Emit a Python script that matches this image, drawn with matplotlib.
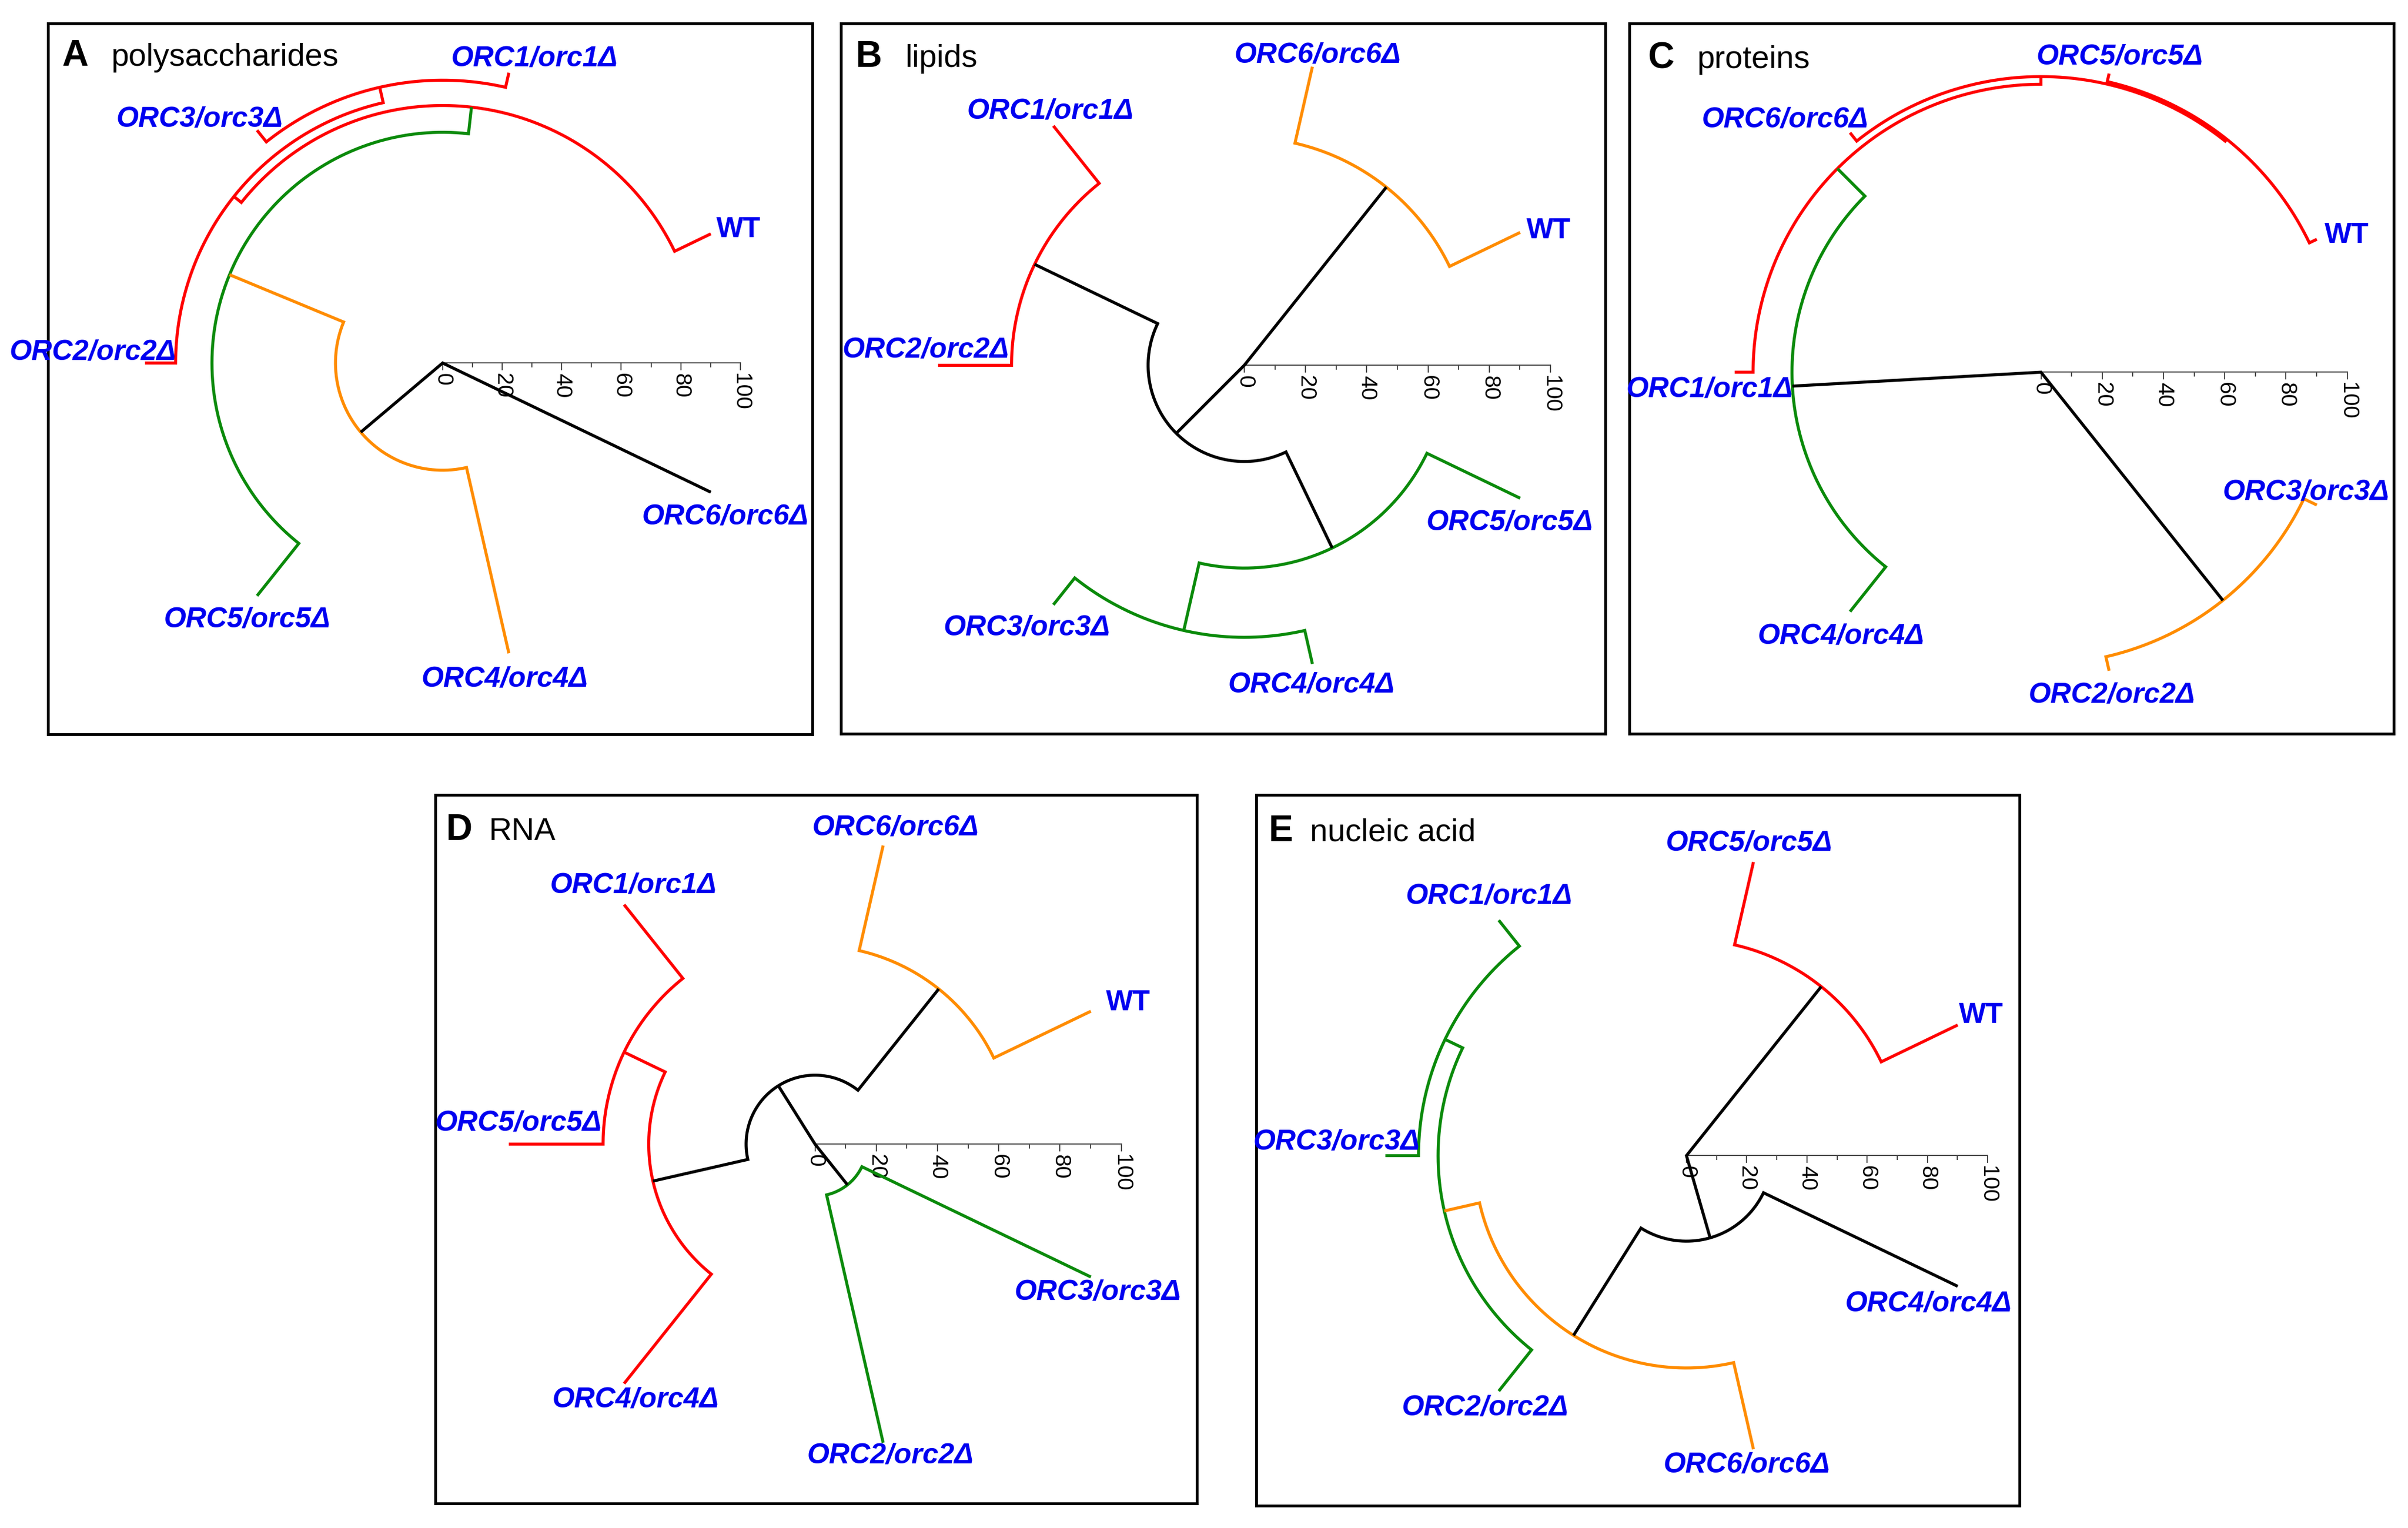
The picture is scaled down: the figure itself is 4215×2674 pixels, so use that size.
import numpy as np
import matplotlib
matplotlib.use("Agg")
import matplotlib.pyplot as plt

plt.rcParams['font.family'] = ['Liberation Sans', 'DejaVu Sans']

W, H, DPI = 4215, 2674, 100

# ---------------- data ----------------
LEAF_HEIGHT = 100
AXIS_MAJOR = [0, 20, 40, 60, 80, 100]
AXIS_MINOR = [10, 30, 50, 70, 90]

# A: polysaccharides (leaves listed counter-clockwise, starting at WT)
LEAVES_A = ["WT", "ORC1/orc1Δ", "ORC3/orc3Δ", "ORC2/orc2Δ", "ORC5/orc5Δ", "ORC4/orc4Δ", "ORC6/orc6Δ"]
MERGES_A = [("ORC1/orc1Δ", "ORC3/orc3Δ"), ("n0", "ORC2/orc2Δ"), ("WT", "n1"),
            ("n2", "ORC5/orc5Δ"), ("n3", "ORC4/orc4Δ"), ("ORC6/orc6Δ", "n4")]
HEIGHTS_A = [95.0, 89.7, 86.5, 77.5, 36.0, 0.0]
CLUSTER_A = ["red", "red", "red", "green", "orange", "black"]

# B: lipids
LEAVES_B = ["WT", "ORC6/orc6Δ", "ORC1/orc1Δ", "ORC2/orc2Δ", "ORC3/orc3Δ", "ORC4/orc4Δ", "ORC5/orc5Δ"]
MERGES_B = [("WT", "ORC6/orc6Δ"), ("ORC1/orc1Δ", "ORC2/orc2Δ"), ("ORC3/orc3Δ", "ORC4/orc4Δ"),
            ("n2", "ORC5/orc5Δ"), ("n1", "n3"), ("n0", "n4")]
HEIGHTS_B = [74.4, 76.0, 88.8, 66.2, 31.4, 0.0]
CLUSTER_B = ["orange", "red", "green", "green", "black", "black"]

# C: proteins
LEAVES_C = ["WT", "ORC5/orc5Δ", "ORC6/orc6Δ", "ORC1/orc1Δ", "ORC4/orc4Δ", "ORC2/orc2Δ", "ORC3/orc3Δ"]
MERGES_C = [("WT", "ORC5/orc5Δ"), ("ORC6/orc6Δ", "n0"), ("n1", "ORC1/orc1Δ"),
            ("n2", "ORC4/orc4Δ"), ("ORC2/orc2Δ", "ORC3/orc3Δ"), ("n3", "n4")]
HEIGHTS_C = [97.3, 96.5, 94.0, 81.3, 95.3, 0.0]
CLUSTER_C = ["red", "red", "red", "green", "orange", "black"]

# D: RNA
LEAVES_D = ["WT", "ORC6/orc6Δ", "ORC1/orc1Δ", "ORC5/orc5Δ", "ORC4/orc4Δ", "ORC2/orc2Δ", "ORC3/orc3Δ"]
MERGES_D = [("WT", "ORC6/orc6Δ"), ("ORC1/orc1Δ", "ORC5/orc5Δ"), ("n1", "ORC4/orc4Δ"),
            ("n0", "n2"), ("ORC2/orc2Δ", "ORC3/orc3Δ"), ("n3", "n4")]
HEIGHTS_D = [64.8, 69.2, 54.3, 22.5, 17.0, 0.0]
CLUSTER_D = ["orange", "red", "red", "black", "green", "black"]

# E: nucleic acid
LEAVES_E = ["WT", "ORC5/orc5Δ", "ORC1/orc1Δ", "ORC3/orc3Δ", "ORC2/orc2Δ", "ORC6/orc6Δ", "ORC4/orc4Δ"]
MERGES_E = [("WT", "ORC5/orc5Δ"), ("ORC1/orc1Δ", "ORC3/orc3Δ"), ("n1", "ORC2/orc2Δ"),
            ("n2", "ORC6/orc6Δ"), ("n3", "ORC4/orc4Δ"), ("n0", "n4")]
HEIGHTS_E = [71.8, 89.0, 82.5, 70.5, 28.4, 0.0]
CLUSTER_E = ["red", "green", "green", "orange", "black", "black"]

# ---------------- style / layout ----------------
COLORS = {"red": "#FF0000", "green": "#0A8A0A", "orange": "#FF8C00", "black": "#000000"}
LABEL_COLOR = "#0000F0"
LINE_W = 3.8
LABEL_FS = 36
AXIS_FS = 28

# label centre offsets from leaf tip (data units)
LABEL_OFF = {
    "A": {"WT": (9.4, 2.4), "ORC1/orc1Δ": (8.6, 5.7), "ORC3/orc3Δ": (-19.3, 4.6), "ORC2/orc2Δ": (-17.6, 4.6),
          "ORC5/orc5Δ": (-3.3, -7.1), "ORC4/orc4Δ": (-1.4, -7.7), "ORC6/orc6Δ": (4.8, -7.3)},
    "B": {"WT": (9.4, 1.4), "ORC6/orc6Δ": (1.8, 4.6), "ORC1/orc1Δ": (-1.0, 5.8), "ORC2/orc2Δ": (-4.0, 6.0),
          "ORC3/orc3Δ": (-8.6, -6.6), "ORC4/orc4Δ": (-0.3, -5.9), "ORC5/orc5Δ": (-3.4, -7.0)},
    "C": {"WT": (9.7, 2.1), "ORC5/orc5Δ": (3.5, 6.4), "ORC6/orc6Δ": (-21.3, 5.1), "ORC1/orc1Δ": (-8.3, -4.8),
          "ORC4/orc4Δ": (-3.0, -7.2), "ORC2/orc2Δ": (0.8, -7.0), "ORC3/orc3Δ": (-3.6, 5.0)},
    "D": {"WT": (12.1, 3.6), "ORC6/orc6Δ": (4.0, 6.8), "ORC1/orc1Δ": (3.0, 7.1), "ORC5/orc5Δ": (3.2, 7.8),
          "ORC4/orc4Δ": (3.8, -4.4), "ORC2/orc2Δ": (2.4, -3.3), "ORC3/orc3Δ": (2.2, -4.0)},
    "E": {"WT": (7.8, 4.1), "ORC5/orc5Δ": (-1.45, 7.2), "ORC1/orc1Δ": (-3.2, 8.8), "ORC3/orc3Δ": (-16.2, 5.4),
          "ORC2/orc2Δ": (-4.5, -4.5), "ORC6/orc6Δ": (-2.3, -4.3), "ORC4/orc4Δ": (-9.7, -4.8)},
}

# panel geometry in pixels: box (x0, y0, x1, y1), tree centre, px per unit, title anchors
PANELS = [
    dict(key="A", title="polysaccharides", leaves=LEAVES_A, merges=MERGES_A, heights=HEIGHTS_A, clusters=CLUSTER_A,
         box=(84, 41, 1422, 1285), center=(774.8, 635.3), scale=5.21, letter_x=108, text_x=194, base_y=115),
    dict(key="B", title="lipids", leaves=LEAVES_B, merges=MERGES_B, heights=HEIGHTS_B, clusters=CLUSTER_B,
         box=(1472, 41, 2810, 1284), center=(2178.0, 639.3), scale=5.36, letter_x=1498, text_x=1584, base_y=117),
    dict(key="C", title="proteins", leaves=LEAVES_C, merges=MERGES_C, heights=HEIGHTS_C, clusters=CLUSTER_C,
         box=(2852, 41, 4190, 1284), center=(3572.5, 651.3), scale=5.36, letter_x=2884, text_x=2970, base_y=119),
    dict(key="D", title="RNA", leaves=LEAVES_D, merges=MERGES_D, heights=HEIGHTS_D, clusters=CLUSTER_D,
         box=(762, 1391, 2095, 2631), center=(1426.6, 2002.2), scale=5.36, letter_x=781, text_x=856, base_y=1470),
    dict(key="E", title="nucleic acid", leaves=LEAVES_E, merges=MERGES_E, heights=HEIGHTS_E, clusters=CLUSTER_E,
         box=(2199, 1391, 3535, 2635), center=(2952.0, 2022.4), scale=5.27, letter_x=2221, text_x=2293, base_y=1472),
]


def layout_tree(leaves, merges, heights):
    n = len(leaves)
    ang = {lf: np.deg2rad((i + 0.5) * 360.0 / n) for i, lf in enumerate(leaves)}
    rad = {lf: float(LEAF_HEIGHT) for lf in leaves}
    links = []
    for k, ((c1, c2), h) in enumerate(zip(merges, heights)):
        nm = f"n{k}"
        ang[nm] = 0.5 * (ang[c1] + ang[c2])
        rad[nm] = h
        links.append((nm, c1, c2))
    return ang, rad, links


fig = plt.figure(figsize=(W / DPI, H / DPI), dpi=DPI)
fig.patch.set_facecolor("white")

for p in PANELS:
    x0, y0, x1, y1 = p["box"]
    cx, cy = p["center"]
    s = p["scale"]
    ax = fig.add_axes([x0 / W, 1 - y1 / H, (x1 - x0) / W, (y1 - y0) / H])
    ax.set_xlim((x0 - cx) / s, (x1 - cx) / s)
    ax.set_ylim((cy - y1) / s, (cy - y0) / s)
    ax.set_xticks([])
    ax.set_yticks([])
    for sp in ax.spines.values():
        sp.set_linewidth(3.5)
        sp.set_color("black")
        sp.set_zorder(1)

    ang, rad, links = layout_tree(p["leaves"], p["merges"], p["heights"])
    for (nm, c1, c2), cl in zip(links, p["clusters"]):
        ca, cb = sorted([c1, c2], key=lambda c: ang[c])
        a1, a2 = ang[ca], ang[cb]
        r = rad[nm]
        xs = [rad[ca] * np.cos(a1)]
        ys = [rad[ca] * np.sin(a1)]
        if r > 0:
            t = np.linspace(a1, a2, 300)
            xs += list(r * np.cos(t))
            ys += list(r * np.sin(t))
        else:
            xs.append(0.0)
            ys.append(0.0)
        xs.append(rad[cb] * np.cos(a2))
        ys.append(rad[cb] * np.sin(a2))
        ax.plot(xs, ys, color=COLORS[cl], lw=LINE_W, solid_joinstyle="miter",
                solid_capstyle="butt", zorder=3)

    # radial scale
    maj_len = 12.0 / s
    min_len = 7.0 / s
    ax.plot([0, AXIS_MAJOR[-1]], [0, 0], color="#4a4a4a", lw=1.4, zorder=2)
    for t in AXIS_MAJOR:
        ax.plot([t, t], [0, -maj_len], color="#4a4a4a", lw=1.4, zorder=2)
        ax.text(t, -18.0 / s, str(t), rotation=-90, ha="center", va="top",
                fontsize=AXIS_FS, color="black", zorder=2)
    for t in AXIS_MINOR:
        ax.plot([t, t], [0, -min_len], color="#4a4a4a", lw=1.4, zorder=2)

    # leaf labels
    cap = 0.5 * 0.716 * LABEL_FS * DPI / 72.0 / s
    for lf in p["leaves"]:
        du, dv = LABEL_OFF[p["key"]][lf]
        tx = LEAF_HEIGHT * np.cos(ang[lf]) + du
        ty = LEAF_HEIGHT * np.sin(ang[lf]) + dv - cap
        style = "normal" if lf == "WT" else "italic"
        ax.text(tx, ty, lf, ha="center", va="baseline", fontsize=LABEL_FS,
                fontweight="bold", fontstyle=style, color=LABEL_COLOR, zorder=5)

    # panel title
    fig.text(p["letter_x"] / W, 1 - p["base_y"] / H, p["key"], fontsize=46,
             fontweight="bold", ha="left", va="baseline")
    fig.text(p["text_x"] / W, 1 - p["base_y"] / H, p["title"], fontsize=40,
             ha="left", va="baseline")

fig.savefig("out.png", dpi=DPI, facecolor="white")
